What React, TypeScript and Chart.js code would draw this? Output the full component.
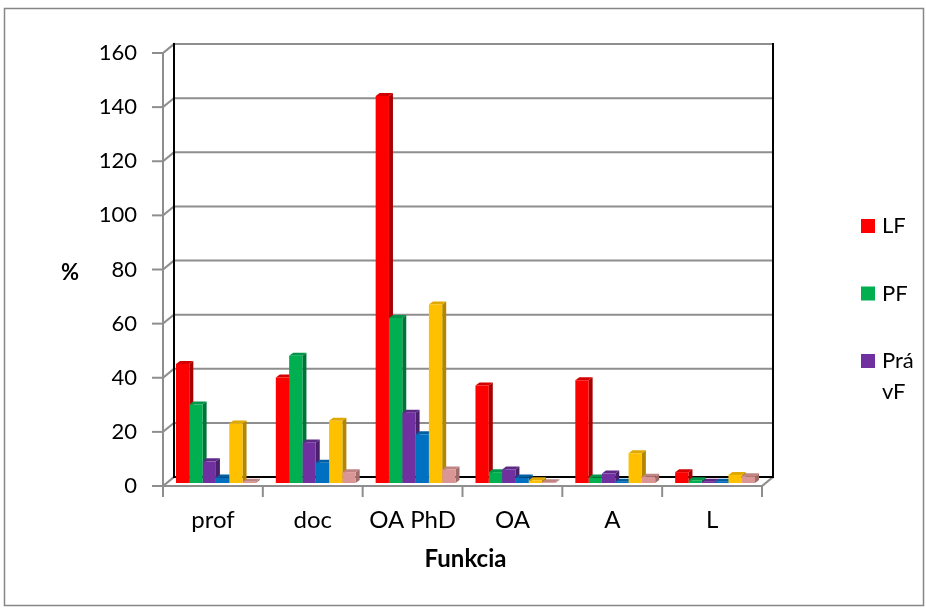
import React, { useEffect, useRef } from "react";
import { Chart, registerables } from "chart.js";

Chart.register(...registerables);

// ---- data ----
const categories = ["prof", "doc", "OA PhD", "OA", "A", "L"];
const seriesNames = ["LF", "PF", "PrávF", "Rad 4", "Rad 5", "Rad 6"];
const lfValues = [44, 39, 143, 36, 38, 4];
const pfValues = [29, 47, 61, 4, 2, 1];
const pravfValues = [8, 15, 26, 5, 3.5, 0.5];
const series4Values = [2, 7.5, 18, 2, 0.5, 0.5];
const series5Values = [22, 23, 66, 1, 11, 3];
const series6Values = [0.5, 4, 5, 0.3, 2.3, 2.5];
const yTickValues = [0, 20, 40, 60, 80, 100, 120, 140, 160];
const xAxisTitle = "Funkcia";
const yAxisTitle = "%";
const legendVisibleCount = 3;

// ---- styles ----
const frontColors = ["#FF0000", "#00B050", "#7030A0", "#0070C0", "#FFC000", "#D99694"];
const sideColors = ["#A80000", "#00733A", "#4A1F6B", "#004A80", "#B38600", "#A06C6A"];
const topColors = ["#D40000", "#00964A", "#5E2887", "#005FA3", "#E0A800", "#C08482"];
const FONT = "Lato, 'Open Sans', sans-serif";

const FX = -3, FY = 3; // front plane offset
const BX = 8, BY = -6; // back wall offset
const DX = 4, DY = -3; // bar depth

const framePlugin = {
  id: "frame3d",
  beforeDraw(chart: any) {
    const { ctx, width, height } = chart;
    ctx.save();
    ctx.fillStyle = "#ffffff";
    ctx.fillRect(0, 0, width, height);
    ctx.strokeStyle = "#868686";
    ctx.lineWidth = 1.5;
    ctx.strokeRect(4.5, 8.5, 919, 597);
    ctx.restore();
  },
  beforeDatasetsDraw(chart: any) {
    const { ctx } = chart;
    const x = chart.scales.x;
    const y = chart.scales.y;
    const L = x.left, R = x.right;
    const y0 = y.getPixelForValue(0);
    const yMax = y.getPixelForValue(yTickValues[yTickValues.length - 1]);
    const line = (x1: number, y1: number, x2: number, y2: number) => {
      ctx.beginPath();
      ctx.moveTo(x1, y1);
      ctx.lineTo(x2, y2);
      ctx.stroke();
    };
    ctx.save();
    ctx.lineCap = "square";
    // gridlines on back wall, side diagonals, front ticks
    ctx.strokeStyle = "#8E8E8E";
    ctx.lineWidth = 2;
    for (const v of yTickValues) {
      const py = y.getPixelForValue(v);
      if (v !== 0) line(L + BX, py + BY, R + BX, py + BY);
      line(L + FX, py + FY, L + BX, py + BY);
      line(L + FX - 10, py + FY, L + FX, py + FY);
    }
    // front y axis
    line(L + FX, yMax + FY, L + FX, y0 + FY);
    // front floor line
    line(L + FX, y0 + FY, R + FX, y0 + FY);
    line(R + FX, y0 + FY, R + BX, y0 + BY);
    // category ticks
    const n = categories.length;
    for (let i = 0; i <= n; i++) {
      const xp = L + (i * (R - L)) / n + FX;
      line(xp, y0 + FY, xp, y0 + FY + 10);
    }
    // back wall black edges
    ctx.strokeStyle = "#000000";
    ctx.lineWidth = 2;
    line(L + BX, yMax + BY, L + BX, y0 + BY);
    line(R + BX, yMax + BY, R + BX, y0 + BY);
    line(L + BX, y0 + BY, R + BX, y0 + BY);

    // 3D bar faces: sides first, then tops
    const metas = chart.data.datasets.map((_: any, i: number) => chart.getDatasetMeta(i));
    for (let pass = 0; pass < 2; pass++) {
      metas.forEach((meta: any, di: number) => {
        meta.data.forEach((el: any) => {
          const p = el.getProps(["x", "y", "base", "width"], true);
          const left = p.x - p.width / 2;
          const right = p.x + p.width / 2;
          ctx.beginPath();
          if (pass === 0) {
            ctx.fillStyle = sideColors[di];
            ctx.moveTo(right, p.y);
            ctx.lineTo(right + DX, p.y + DY);
            ctx.lineTo(right + DX, p.base + DY);
            ctx.lineTo(right, p.base);
          } else {
            ctx.fillStyle = topColors[di];
            ctx.moveTo(left, p.y);
            ctx.lineTo(left + DX, p.y + DY);
            ctx.lineTo(right + DX, p.y + DY);
            ctx.lineTo(right, p.y);
          }
          ctx.closePath();
          ctx.fill();
        });
      });
    }
    ctx.restore();
  },
  afterDraw(chart: any) {
    const { ctx } = chart;
    ctx.save();
    // y axis title
    ctx.fillStyle = "#000000";
    ctx.font = `bold 22px ${FONT}`;
    ctx.textAlign = "center";
    ctx.textBaseline = "middle";
    ctx.fillText(yAxisTitle, 70, 273);
    // legend
    ctx.font = `22px ${FONT}`;
    ctx.textAlign = "left";
    const maxW = 42;
    chart.data.datasets.slice(0, legendVisibleCount).forEach((ds: any, i: number) => {
      const cy = 226 + i * 67.5;
      ctx.fillStyle = ds.backgroundColor;
      ctx.fillRect(861, cy - 7, 14, 14);
      ctx.fillStyle = "#000000";
      const lines: string[] = [];
      let cur = "";
      for (const ch of ds.label as string) {
        if (cur && ctx.measureText(cur + ch).width > maxW) {
          lines.push(cur);
          cur = ch;
        } else cur += ch;
      }
      if (cur) lines.push(cur);
      lines.forEach((t, j) => ctx.fillText(t, 882, cy + j * 31));
    });
    ctx.restore();
  },
};

export default function App() {
  const ref = useRef<HTMLCanvasElement | null>(null);
  useEffect(() => {
    document.body.style.margin = "0";
    const canvas = ref.current;
    if (!canvas) return;
    const allSeries = [lfValues, pfValues, pravfValues, series4Values, series5Values, series6Values];
    const chart = new Chart(canvas, {
      type: "bar",
      data: {
        labels: categories,
        datasets: allSeries.map((vals, i) => ({
          label: seriesNames[i],
          data: vals,
          backgroundColor: frontColors[i],
          borderWidth: 0,
          categoryPercentage: 0.8,
          barPercentage: 1.0,
        })),
      },
      options: {
        animation: false,
        responsive: false,
        devicePixelRatio: 1,
        layout: { padding: { left: 0, right: 161, top: 50, bottom: 0 } },
        plugins: {
          legend: { display: false },
          title: { display: false },
          tooltip: { enabled: false },
        },
        scales: {
          x: {
            grid: { display: false, drawTicks: false },
            border: { display: false },
            ticks: {
              color: "#000000",
              font: { family: FONT, size: 24 },
              padding: 23,
              labelOffset: -3,
              maxRotation: 0,
              autoSkip: false,
            },
            title: {
              display: true,
              text: xAxisTitle,
              color: "#000000",
              font: { family: FONT, size: 24, weight: "bold" },
              padding: { top: 0, bottom: 34 },
            },
            afterFit: (scale: any) => {
              scale.height = 125;
            },
          },
          y: {
            min: 0,
            max: 160,
            grid: { display: false, drawTicks: false },
            border: { display: false },
            ticks: {
              stepSize: 20,
              color: "#000000",
              font: { family: FONT, size: 22 },
              padding: 29,
              labelOffset: 3,
            },
            afterFit: (scale: any) => {
              scale.width = 166;
            },
          },
        },
      },
      plugins: [framePlugin],
    });
    return () => chart.destroy();
  }, []);
  return <canvas ref={ref} width={926} height={608} style={{ display: "block" }} />;
}
